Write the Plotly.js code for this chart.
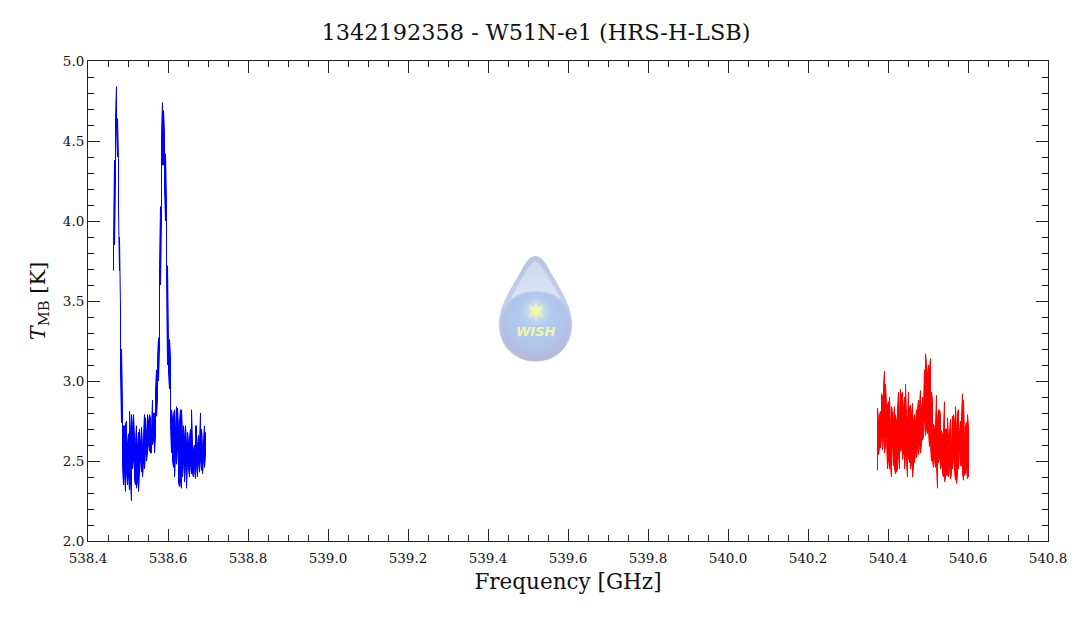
<!DOCTYPE html>
<html><head><meta charset="utf-8">
<script src="https://cdn.plot.ly/plotly-3.0.1.min.js"></script>
<style>html,body{margin:0;padding:0;background:#fff}#c{width:1072px;height:618px}</style>
</head><body><div id="c"></div>
<script>
const chartTitle = "1342192358 - W51N-e1 (HRS-H-LSB)";
const xTitle = "Frequency [GHz]";
const yTitle = "<i>T</i><sub>MB</sub> [K]";
const logoText = "WISH";
const channelStep = 0.0025;
const blueStart = 538.46375;
const redStart = 540.37375;
const blueHigh = [3.88,4.38,4.65,4.84,4.64,4.39,3.90,3.45,3.20,2.87,2.72,2.72,2.73,2.75,2.62,2.67,2.81,2.69,2.79,2.73,2.79,2.66,2.62,2.72,2.60,2.68,2.70,2.62,2.71,2.60,2.66,2.79,2.77,2.68,2.79,2.75,2.79,2.77,2.70,2.88,2.80,2.80,2.95,3.07,3.14,3.27,3.72,4.09,4.55,4.74,4.69,4.56,4.42,4.12,3.72,3.26,3.26,3.15,2.82,2.77,2.79,2.82,2.72,2.84,2.83,2.72,2.75,2.82,2.82,2.68,2.72,2.66,2.72,2.62,2.68,2.62,2.65,2.70,2.82,2.62,2.58,2.60,2.72,2.72,2.60,2.66,2.62,2.80,2.70,2.60,2.64,2.72,2.68];
const blueLow = [3.69,3.85,4.25,4.58,4.40,4.07,3.69,3.05,2.74,2.46,2.35,2.41,2.31,2.42,2.35,2.40,2.32,2.37,2.25,2.45,2.50,2.38,2.35,2.33,2.37,2.31,2.42,2.50,2.43,2.40,2.48,2.45,2.55,2.50,2.55,2.60,2.56,2.55,2.55,2.60,2.62,2.55,2.65,2.78,2.88,3.00,3.20,3.60,4.00,4.35,4.35,4.20,4.00,3.65,3.10,3.05,2.95,2.72,2.55,2.50,2.46,2.40,2.52,2.48,2.56,2.36,2.34,2.36,2.33,2.40,2.47,2.37,2.46,2.33,2.48,2.45,2.40,2.46,2.42,2.42,2.40,2.44,2.39,2.46,2.40,2.48,2.43,2.50,2.44,2.42,2.50,2.46,2.53];
const redHigh = [2.83,2.76,2.79,2.81,2.92,2.91,2.97,3.06,2.98,2.86,2.85,2.87,2.90,2.74,2.84,2.81,2.77,2.84,2.79,2.75,2.83,2.93,2.81,2.95,2.92,2.93,2.84,2.90,2.98,2.79,2.77,2.93,2.84,2.85,2.80,2.86,2.76,2.79,2.75,2.82,2.83,2.88,2.86,2.94,2.83,2.90,2.86,3.07,3.17,3.11,3.06,3.10,3.08,3.14,2.93,2.88,2.73,2.71,2.73,2.91,2.77,2.82,2.82,2.79,2.69,2.67,2.71,2.87,2.70,2.70,2.77,2.65,2.68,2.76,2.62,2.78,2.79,2.75,2.84,2.71,2.81,2.82,2.69,2.75,2.78,2.92,2.88,2.66,2.72,2.74,2.79,2.72];
const redLow = [2.44,2.54,2.58,2.58,2.64,2.57,2.64,2.55,2.59,2.64,2.45,2.50,2.45,2.46,2.40,2.58,2.47,2.45,2.42,2.43,2.45,2.53,2.45,2.56,2.57,2.51,2.55,2.45,2.52,2.49,2.40,2.52,2.49,2.45,2.48,2.40,2.46,2.49,2.54,2.52,2.57,2.54,2.59,2.55,2.60,2.63,2.65,2.75,2.66,2.69,2.67,2.68,2.59,2.59,2.50,2.50,2.46,2.51,2.46,2.46,2.33,2.49,2.51,2.45,2.47,2.42,2.40,2.37,2.39,2.41,2.41,2.40,2.44,2.39,2.42,2.45,2.51,2.43,2.38,2.36,2.41,2.45,2.55,2.47,2.47,2.42,2.38,2.41,2.42,2.45,2.39,2.40];

function envelope(start, high, low){
  const x=[], y=[];
  high.forEach((h,i)=>{
    const f=start+i*channelStep;
    x.push(f,f);
    if(i%2){y.push(h,low[i]);}else{y.push(low[i],h);}
  });
  return {x,y};
}
const serif = '"DejaVu Serif", serif';
const ink = '#222';
const blue = envelope(blueStart, blueHigh, blueLow);
const red = envelope(redStart, redHigh, redLow);
const logoSvg = `<svg xmlns="http://www.w3.org/2000/svg" width="810" height="1140" viewBox="0 0 81 114">
<defs>
<radialGradient id="b" cx="50%" cy="40%" r="62%"><stop offset="0" stop-color="#b0cdf2"/><stop offset=".55" stop-color="#aec9ed"/><stop offset=".85" stop-color="#b2bddf"/><stop offset="1" stop-color="#b5b6d6"/></radialGradient>
<linearGradient id="u" x1="0" y1="0" x2="0" y2="1"><stop offset="0" stop-color="#b9c3e0"/><stop offset=".5" stop-color="#c2d0ec"/><stop offset="1" stop-color="#b8bad9"/></linearGradient>
<linearGradient id="h" x1="0" y1="0" x2="0" y2="1"><stop offset="0" stop-color="#cfd8ec"/><stop offset="1" stop-color="#dbe5f2"/></linearGradient>
<radialGradient id="g"><stop offset="0" stop-color="#fdfbc0" stop-opacity=".95"/><stop offset=".45" stop-color="#e8f0d8" stop-opacity=".45"/><stop offset="1" stop-color="#c0d8f4" stop-opacity="0"/></radialGradient>
<filter id="s" x="-10%" y="-10%" width="120%" height="120%"><feGaussianBlur stdDeviation="1.600"/></filter>
<filter id="t" x="-10%" y="-10%" width="120%" height="120%"><feGaussianBlur stdDeviation="0.500"/></filter>
</defs>
<path d="M40.500 4 C35.500 4 31 9 26 19 C16 37 4 53 4 73 C4 95 21 109.500 40.500 109.500 C60 109.500 77 95 77 73 C77 53 65 37 55 19 C50 9 45.500 4 40.500 4 Z" fill="url(#u)" filter="url(#t)"/>
<path d="M40.500 9.500 C37 9.500 33 16 29 23 C24 31 19 40 15 48 C22 42 31 39.500 41 39.500 C51 39.500 60 42 66 48 C62 40 57 31 52 23 C48 16 44 9.500 40.500 9.500 Z" fill="url(#h)" filter="url(#t)"/>
<path d="M40.500 40 C21 40 6 54 6 72 C6 94 22 107.500 40.500 107.500 C59 107.500 75 94 75 72 C75 54 60 40 40.500 40 Z" fill="url(#b)" filter="url(#s)"/>
<circle cx="41" cy="59" r="17" fill="url(#g)"/>
<path d="M41 49 L42.400 56 L48.800 53.500 L43.800 59 L48.800 64.500 L42.400 62 L41 69 L39.600 62 L33.200 64.500 L38.200 59 L33.200 53.500 L39.600 56 Z" fill="#f8f6a0"/>
</svg>`;
const logoSrc = 'data:image/svg+xml;charset=utf-8,' + encodeURIComponent(logoSvg);

const data = [
 {type:'scatter',mode:'lines',x:blue.x,y:blue.y,line:{color:'#0000ff',width:1,shape:'linear'},hoverinfo:'skip'},
 {type:'scatter',mode:'lines',x:red.x,y:red.y,line:{color:'#ff0000',width:1,shape:'linear'},hoverinfo:'skip'}
];
const axisBase = {
  showline:true,linecolor:ink,linewidth:1,mirror:'allticks',ticks:'inside',tickcolor:ink,tickwidth:1,ticklen:12,
  showgrid:false,zeroline:false,tickformat:'.1f',tickfont:{family:serif,size:13.5,color:'#111'}
};
const layout = {
  width:1072,height:618,autosize:false,showlegend:false,
  paper_bgcolor:'#fff',plot_bgcolor:'#fff',
  margin:{l:88,r:24,t:61,b:77,pad:0},
  title:{text:chartTitle,x:0.5,xanchor:'center',xref:'container',y:0.9482,yanchor:'middle',font:{family:serif,size:22.4,color:'#111'}},
  xaxis:Object.assign({},axisBase,{range:[538.4,540.8],dtick:0.2,tick0:538.4,ticklabelstandoff:5,
    minor:{dtick:0.05,ticks:'inside',ticklen:6,tickcolor:ink,tickwidth:1,showgrid:false},
    title:{text:xTitle,standoff:8,font:{family:serif,size:21.5,color:'#111'}}}),
  yaxis:Object.assign({},axisBase,{range:[2,5],dtick:0.5,tick0:2,
    minor:{dtick:0.1,ticks:'inside',ticklen:6,tickcolor:ink,tickwidth:1,showgrid:false},
    title:{text:yTitle,standoff:11,font:{family:serif,size:21,color:'#111'}}}),
  images:[{source:logoSrc,xref:'paper',yref:'paper',x:(495-88)/960,y:(541-252)/480,sizex:81/960,sizey:114/480,xanchor:'left',yanchor:'top',sizing:'stretch',layer:'below'}],
  annotations:[{text:'<b><i>'+logoText+'</i></b>',xref:'paper',yref:'paper',x:(536-88)/960,y:(541-331)/480,xanchor:'center',yanchor:'middle',showarrow:false,font:{family:'"DejaVu Sans", sans-serif',size:13,color:'#f6f3a2'}}]
};
Plotly.newPlot('c',data,layout,{displayModeBar:false,staticPlot:true});
</script></body></html>
